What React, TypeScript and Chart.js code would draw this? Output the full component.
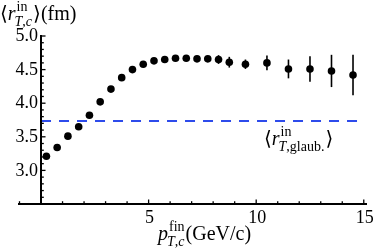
import React, { useEffect, useRef } from "react";
import { Chart, registerables } from "chart.js";

Chart.register(...registerables);

// ---- data ----
const pT = [0.25, 0.75, 1.25, 1.75, 2.25, 2.75, 3.25, 3.75, 4.25, 4.75, 5.25, 5.75, 6.25, 6.75, 7.25, 7.75, 8.25, 8.75, 9.5, 10.5, 11.5, 12.5, 13.5, 14.5];
const rT = [3.21, 3.34, 3.51, 3.65, 3.82, 4.02, 4.21, 4.38, 4.5, 4.58, 4.63, 4.65, 4.67, 4.67, 4.66, 4.66, 4.65, 4.61, 4.58, 4.6, 4.51, 4.51, 4.48, 4.42];
const rErr = [0, 0, 0, 0, 0, 0, 0, 0, 0, 0, 0, 0, 0, 0, 0, 0.03, 0.065, 0.08, 0.07, 0.11, 0.14, 0.19, 0.24, 0.3];
const glauberValue = 3.735;
const glauberFrom = 0;
const glauberTo = 14.9;
const yTickValues = [3.0, 3.5, 4.0, 4.5, 5.0];
const yTickLabels = ["3.0", "3.5", "4.0", "4.5", "5.0"];
const xTickValues = [5, 10, 15];
const xTickLabels = ["5", "10", "15"];

const SERIF = "'Liberation Serif', 'DejaVu Serif', serif";
const BLUE = "rgb(45,75,235)";

type Run = { t: string; it?: boolean };
type Tok = Run | { sup: Run[]; sub: Run[] };

function drawRuns(ctx: CanvasRenderingContext2D, x: number, y: number, runs: Run[], size: number) {
  let w = 0;
  for (const r of runs) {
    ctx.font = `${r.it ? "italic " : ""}${size}px ${SERIF}`;
    ctx.fillText(r.t, x + w, y);
    w += ctx.measureText(r.t).width;
  }
  return w;
}

function drawMath(ctx: CanvasRenderingContext2D, x0: number, y: number, toks: Tok[], size: number) {
  let x = x0;
  ctx.textAlign = "left";
  ctx.textBaseline = "alphabetic";
  for (const tk of toks) {
    if ("t" in tk) {
      x += drawRuns(ctx, x, y, [tk], size);
    } else {
      const s = Math.round(size * 0.68);
      const w1 = drawRuns(ctx, x + 1, y - size * 0.45, tk.sup, s) + 1;
      const w2 = drawRuns(ctx, x - 1, y + size * 0.28, tk.sub, s) - 1;
      x += Math.max(w1, w2) + 1;
    }
  }
  return x;
}

const errorBars = {
  id: "errorBars",
  beforeDatasetsDraw(chart: any) {
    const { ctx, scales } = chart;
    const xs = scales.x, ys = scales.y;
    ctx.save();
    ctx.strokeStyle = "#000";
    ctx.lineWidth = 1.6;
    pT.forEach((p, i) => {
      const e = rErr[i];
      if (!e) return;
      const px = xs.getPixelForValue(p);
      ctx.beginPath();
      ctx.moveTo(px, ys.getPixelForValue(rT[i] + e));
      ctx.lineTo(px, ys.getPixelForValue(rT[i] - e));
      ctx.stroke();
    });
    ctx.restore();
  },
};

const axesAndText = {
  id: "axesAndText",
  afterDraw(chart: any) {
    const { ctx, scales } = chart;
    const xs = scales.x, ys = scales.y;
    const x0 = xs.getPixelForValue(0);
    const yBase = ys.getPixelForValue(2.5);
    ctx.save();
    ctx.strokeStyle = "#000";
    ctx.fillStyle = "#000";
    // x axis line
    ctx.lineWidth = 1.8;
    ctx.beginPath();
    ctx.moveTo(xs.getPixelForValue(xs.min), yBase);
    ctx.lineTo(xs.getPixelForValue(xs.max), yBase);
    ctx.stroke();
    // y axis line
    ctx.lineWidth = 2;
    ctx.beginPath();
    ctx.moveTo(x0, yBase);
    ctx.lineTo(x0, ys.getPixelForValue(5.0) - 1);
    ctx.stroke();
    // y ticks (every 0.1, major every 0.5)
    ctx.lineWidth = 1.3;
    for (let k = 26; k <= 50; k++) {
      const py = ys.getPixelForValue(k / 10);
      const major = k % 5 === 0;
      ctx.beginPath();
      ctx.moveTo(x0, py);
      ctx.lineTo(x0 + (major ? 4.5 : 2.8), py);
      ctx.stroke();
    }
    // x ticks (every 1, major every 5)
    for (let k = -1; k <= 15; k++) {
      if (k === 0) continue;
      const px = xs.getPixelForValue(k);
      const major = k % 5 === 0;
      ctx.beginPath();
      ctx.moveTo(px, yBase);
      ctx.lineTo(px, yBase - (major ? 4.5 : 2.8));
      ctx.stroke();
    }
    // tick labels
    ctx.font = `18px ${SERIF}`;
    ctx.textAlign = "right";
    ctx.textBaseline = "middle";
    yTickValues.forEach((v, i) => {
      ctx.fillText(yTickLabels[i], x0 - 3, ys.getPixelForValue(v) + 0.5);
    });
    ctx.textAlign = "center";
    ctx.textBaseline = "alphabetic";
    xTickValues.forEach((v, i) => {
      ctx.fillText(xTickLabels[i], xs.getPixelForValue(v) + 1, 223);
    });
    // axis titles
    const Tc: Run[] = [{ t: "T", it: true }, { t: "," }, { t: "c", it: true }];
    drawMath(ctx, 0, 20, [{ t: "\u27E8" }, { t: "r", it: true }, { sup: [{ t: "in" }], sub: Tc }, { t: "\u27E9" }, { t: "(fm)" }], 20);
    drawMath(ctx, 158, 240, [{ t: "p", it: true }, { sup: [{ t: "fin" }], sub: Tc }, { t: "(GeV/c)" }], 20);
    // annotation
    drawMath(ctx, 264, 145, [{ t: "\u27E8" }, { t: "r", it: true }, { sup: [{ t: "in" }], sub: [{ t: "T", it: true }, { t: ",glaub." }] }, { t: "\u27E9" }], 20);
    ctx.restore();
  },
};

export default function App() {
  const ref = useRef<HTMLCanvasElement>(null);
  useEffect(() => {
    if (!ref.current) return;
    const chart = new Chart(ref.current, {
      type: "scatter",
      data: {
        datasets: [
          {
            type: "line",
            data: [
              { x: glauberFrom, y: glauberValue },
              { x: glauberTo, y: glauberValue },
            ],
            borderColor: BLUE,
            borderWidth: 2,
            borderDash: [10, 8],
            pointRadius: 0,
            fill: false,
          } as any,
          {
            type: "scatter",
            data: pT.map((x, i) => ({ x, y: rT[i] })),
            backgroundColor: "#000",
            borderColor: "#000",
            borderWidth: 0,
            pointRadius: 3.8,
          },
        ],
      },
      options: {
        responsive: false,
        animation: false,
        devicePixelRatio: 1,
        layout: { padding: { left: 18, right: 7, top: 36, bottom: 48 } },
        plugins: { legend: { display: false }, tooltip: { enabled: false } },
        scales: {
          x: { type: "linear", min: -1.07, max: 15.15, display: false },
          y: { type: "linear", min: 2.5, max: 5.0, display: false },
        },
      },
      plugins: [errorBars, axesAndText],
    });
    return () => chart.destroy();
  }, []);
  return (
    <div style={{ position: "absolute", left: 0, top: 0, width: 374, height: 252, background: "#fff" }}>
      <canvas ref={ref} width={374} height={252} style={{ width: 374, height: 252 }} />
    </div>
  );
}
